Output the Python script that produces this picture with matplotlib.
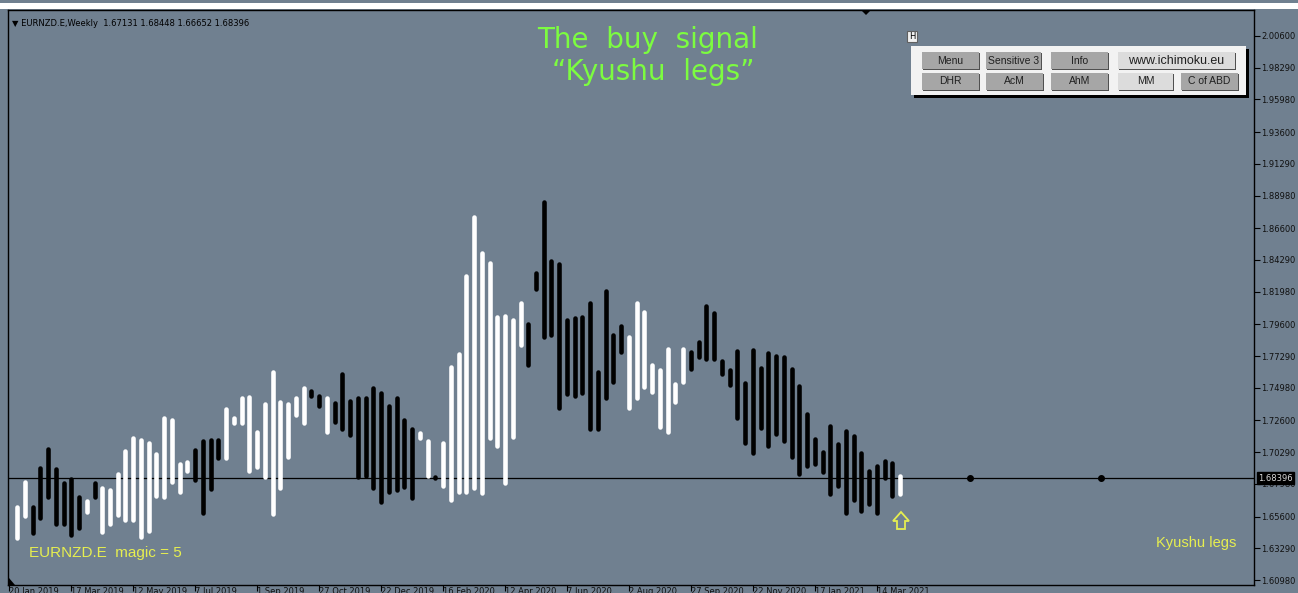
import numpy as np
import matplotlib.pyplot as plt
from matplotlib.patches import Rectangle, Polygon

# weekly bars, index 0 = week of 20 Jan 2019
bar_idx = list(range(1, 116))
highs = [1.6630, 1.6812, 1.6630, 1.6914, 1.7052, 1.6907, 1.6805, 1.6834, 1.6703, 1.6674,
         1.6805, 1.6768, 1.6754, 1.6870, 1.7038, 1.7132, 1.7118, 1.7096, 1.7016, 1.7278,
         1.7263, 1.6943, 1.6958, 1.7045, 1.7110, 1.7118, 1.7118, 1.7343, 1.7278, 1.7424,
         1.7431, 1.7176, 1.7380, 1.7613, 1.7394, 1.7380, 1.7424, 1.7496, 1.7475, 1.7438,
         1.7424, 1.7387, 1.7598, 1.7402, 1.7424, 1.7424, 1.7496, 1.7460, 1.7365, 1.7424,
         1.7263, 1.7198, 1.7169, 1.7110, 1.6850, 1.7096, 1.7649, 1.7744, 1.8312, 1.8742,
         1.8480, 1.8407, 1.8013, 1.8020, 1.7991, 1.8115, 1.7962, 1.8334, 1.8851, 1.8421,
         1.8399, 1.7991, 1.8006, 1.8013, 1.8115, 1.7613, 1.8203, 1.7882, 1.7948, 1.7868,
         1.8115, 1.8050, 1.7664, 1.7627, 1.7780, 1.7525, 1.7780, 1.7758, 1.7831, 1.8093,
         1.8042, 1.7693, 1.7627, 1.7766, 1.7533, 1.7773, 1.7642, 1.7751, 1.7729, 1.7722,
         1.7635, 1.7511, 1.7307, 1.7125, 1.7030, 1.7220, 1.7089, 1.7183, 1.7147, 1.7023,
         1.6892, 1.6929, 1.6965, 1.6951, 1.6856]
lows = [1.6404, 1.6564, 1.6441, 1.6550, 1.6703, 1.6506, 1.6506, 1.6426, 1.6477, 1.6594,
        1.6703, 1.6448, 1.6506, 1.6572, 1.6535, 1.6535, 1.6412, 1.6455, 1.6710, 1.6703,
        1.6812, 1.6739, 1.6892, 1.6827, 1.6586, 1.6761, 1.6987, 1.6987, 1.7241, 1.7241,
        1.6892, 1.6921, 1.6848, 1.6579, 1.6768, 1.6994, 1.7300, 1.7241, 1.7438, 1.7365,
        1.7176, 1.7249, 1.7198, 1.7154, 1.6848, 1.6856, 1.6768, 1.6666, 1.6739, 1.6754,
        1.6776, 1.6696, 1.7132, 1.6856, 1.6840, 1.6783, 1.6681, 1.6739, 1.6739, 1.6768,
        1.6732, 1.7132, 1.7074, 1.6805, 1.7140, 1.7809, 1.7664, 1.8217, 1.7868, 1.7882,
        1.7351, 1.7453, 1.7438, 1.7460, 1.7198, 1.7198, 1.7424, 1.7540, 1.7758, 1.7351,
        1.7424, 1.7504, 1.7467, 1.7212, 1.7176, 1.7394, 1.7540, 1.7635, 1.7722, 1.7707,
        1.7707, 1.7598, 1.7518, 1.7278, 1.7096, 1.7023, 1.7205, 1.7074, 1.7162, 1.7110,
        1.6994, 1.6870, 1.6929, 1.6943, 1.6885, 1.6725, 1.6783, 1.6586, 1.6681, 1.6601,
        1.6652, 1.6586, 1.6841, 1.6710, 1.6725]
# W = white (up) bar, B = black (down) bar
bar_type = ("WW" + "B" * 7 + "W" + "B" + "W" * 12 + "B" * 4 + "W" * 11 + "BB" + "W"
            + "B" * 11 + "WW" + "B" + "W" * 11 + "B" * 13 + "W" * 8 + "B" * 27 + "W")

last_price = 1.68396
future_dots = [124, 141]

date_ticks = list(range(0, 113, 8))
date_labels = ["20 Jan 2019", "17 Mar 2019", "12 May 2019", "7 Jul 2019", "1 Sep 2019",
               "27 Oct 2019", "22 Dec 2019", "16 Feb 2020", "12 Apr 2020", "7 Jun 2020",
               "2 Aug 2020", "27 Sep 2020", "22 Nov 2020", "17 Jan 2021", "14 Mar 2021"]
price_ticks = [2.00600, 1.98290, 1.95980, 1.93600, 1.91290, 1.88980, 1.86600, 1.84290,
               1.81980, 1.79600, 1.77290, 1.74980, 1.72600, 1.70290, 1.67980, 1.65600,
               1.63290, 1.60980]

W, H = 1298, 593
bg = '#708090'
fig = plt.figure(figsize=(W / 100, H / 100), dpi=100, facecolor=bg)
ax = fig.add_axes([8 / W, 8 / H, (1254 - 8) / W, (585 - 10) / H])
ax.set_facecolor(bg)

cols = ['white' if t == 'W' else 'black' for t in bar_type]
lc = ax.vlines(bar_idx, lows, highs, colors=cols, linewidth=3.3)
lc.set_capstyle('round')

ax.axhline(last_price, color='black', lw=0.9, zorder=1)
ax.plot(future_dots, [last_price] * len(future_dots), 'o', color='black', ms=4)

ax.set_xlim(-0.17, 160.7)
ax.set_ylim(1.6062, 2.0249)

ax.yaxis.tick_right()
ax.set_yticks(price_ticks)
ax.set_yticklabels(["%.5f" % p for p in price_ticks])
ax.set_xticks(date_ticks)
ax.set_xticklabels(date_labels)
for lab in ax.get_xticklabels():
    lab.set_ha('left')
ax.tick_params(axis='both', labelsize=6, colors='black', length=4, width=0.8, pad=1,
               labelcolor='#101010')
ax.tick_params(axis='x', pad=-2.5)
for s in ax.spines.values():
    s.set_color('black')
    s.set_linewidth(1)

ax.annotate("%.5f" % last_price, xy=(1.0, last_price), xycoords=('axes fraction', 'data'),
            xytext=(3, 0), textcoords='offset points', ha='left', va='center',
            fontsize=6, color='#d8d8d8',
            bbox=dict(boxstyle='square,pad=0.15', fc='black', ec='black'),
            annotation_clip=False, zorder=10)

ax.text(0.003, 0.985, "\u25bc EURNZD.E,Weekly  1.67131 1.68448 1.66652 1.68396",
        transform=ax.transAxes, fontsize=6, color='black', va='top', ha='left')

ax.text(0.513, 0.948, "The  buy  signal", transform=ax.transAxes, fontsize=20,
        color='#7cfc40', ha='center', va='center')
ax.text(0.518, 0.893, "\u201cKyushu  legs\u201d", transform=ax.transAxes, fontsize=20,
        color='#7cfc40', ha='center', va='center')

ax.text(0.017, 0.055, "EURNZD.E  magic = 5", transform=ax.transAxes, fontsize=11,
        family='Liberation Sans', color='#e6ee50', ha='left', va='center')
ax.text(0.921, 0.073, "Kyushu legs", transform=ax.transAxes, fontsize=10.5,
        family='Liberation Sans', color='#e6ee50', ha='left', va='center')

# overlay in pixel coordinates for the chart furniture
ov = fig.add_axes([0, 0, 1, 1], zorder=5)
ov.set_xlim(0, W)
ov.set_ylim(H, 0)
ov.axis('off')
ov.patch.set_alpha(0)

ov.add_patch(Rectangle((0, 3), W, 6, fc='white', ec='none'))
ov.add_patch(Polygon([(861, 10), (871, 10), (866, 15)], closed=True, fc='black'))
ov.add_patch(Polygon([(9, 578), (9, 585), (15, 585)], closed=True, fc='black'))

# buy arrow
ov.add_patch(Polygon([(901, 512), (909, 521), (905, 521), (905, 529), (897, 529),
                      (897, 521), (893, 521)], closed=True, fc='none', ec='#e6ee50', lw=1.3))

# button panel
ov.add_patch(Rectangle((907, 31), 10, 11, fc='#f0f0f0', ec='#606060', lw=0.8))
ov.text(912, 36.5, "H", fontsize=6, ha='center', va='center', color='black')
ov.add_patch(Rectangle((914, 49), 335, 49, fc='black', ec='none'))
ov.add_patch(Rectangle((911, 46), 335, 49, fc='#f2f2f2', ec='none'))

buttons = [("Menu", 922, 979, 52, '#a6a6a6', 7.5),
           ("Sensitive 3", 986, 1041, 52, '#a6a6a6', 7.5),
           ("Info", 1051, 1108, 52, '#a6a6a6', 7.5),
           ("www.ichimoku.eu", 1118, 1235, 52, '#dcdcdc', 9),
           ("DHR", 922, 979, 73, '#a6a6a6', 7.5),
           ("AcM", 986, 1043, 73, '#a6a6a6', 7.5),
           ("AhM", 1051, 1108, 73, '#a6a6a6', 7.5),
           ("MM", 1118, 1173, 73, '#dcdcdc', 7.5),
           ("C of ABD", 1181, 1238, 73, '#a6a6a6', 7.5)]
for name, x0, x1, y0, fc, fs in buttons:
    ov.add_patch(Rectangle((x0 + 1, y0 + 1), x1 - x0, 17, fc='#505050', ec='none'))
    ov.add_patch(Rectangle((x0, y0), x1 - x0, 17, fc=fc, ec='none'))
    ov.text((x0 + x1) / 2, y0 + 8.5, name, fontsize=fs, family='Liberation Sans',
            ha='center', va='center', color='#202020')

fig.savefig("out.png", dpi=100, facecolor=bg)
